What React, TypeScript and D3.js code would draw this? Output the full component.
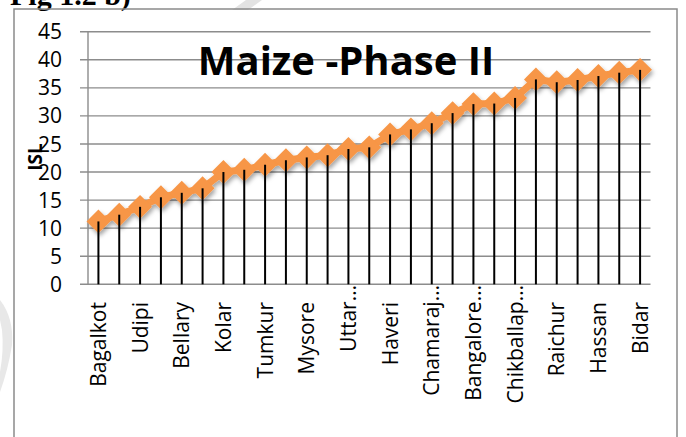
import * as d3 from "d3"

// tick labels shown on the x axis (every second district)
const tickLabels = [
  "Bagalkot", "Udipi", "Bellary", "Kolar", "Tumkur", "Mysore", "Uttar…",
  "Haveri", "Chamaraj…", "Bangalore…", "Chikballap…", "Raichur", "Hassan", "Bidar",
]

// ISL per district, sorted ascending (27 districts)
const islValues = [
  11.2, 12.4, 13.8, 15.5, 16.3, 17.1, 20.0, 20.4, 21.3, 22.1, 22.6, 23.0, 24.1, 24.4,
  26.7, 27.6, 28.7, 30.5, 32.1, 32.2, 33.2, 36.5, 36.0, 36.4, 37.1, 37.7, 38.2,
]

const yTicks = [0, 5, 10, 15, 20, 25, 30, 35, 40, 45]

const W = 686
const H = 437
const left = 88
const right = 650.5
const top = 31.7
const bottom = 284.3

const font = "'Open Sans', 'Noto Sans', sans-serif"
const grid = "#8c8c8c"
const orange = "#f79646"

export default function App() {
  const idx = islValues.map((_, i) => i)
  const x = d3.scaleBand<number>().domain(idx).range([left, right]).paddingInner(0).paddingOuter(0)
  const y = d3.scaleLinear().domain([0, 45]).range([bottom, top])
  const cx = (i: number) => (x(i) ?? 0) + x.bandwidth() / 2

  const line = d3.line<number>()
    .x((_, i) => cx(i))
    .y(d => y(d))

  const diamond = d3.symbol(d3.symbolSquare, 285)()

  return (
    <svg width={W} height={H} style={{ position: "absolute", left: 0, top: 0, background: "#fff" }}>
      <defs>
        <filter id="shadow" x="-10%" y="-10%" width="120%" height="130%">
          <feDropShadow dx="1.5" dy="3" stdDeviation="2" floodColor="#000" floodOpacity="0.35" />
        </filter>
      </defs>

      {/* faint watermark pieces */}
      <polygon points="232,10 248,10 262,0 246,0" fill="#e3e3e3" />
      <path d="M0,300 Q14,318 12,345 Q8,370 0,392 L0,372 Q4,350 2,330 L0,320 Z" fill="#e8e8e8" />

      {/* figure caption, cut off at top */}
      <text x={10} y={5} fontFamily="'Liberation Serif', serif" fontWeight="bold" fontSize={30}>Fig 1.2 b)</text>

      {/* chart frame */}
      <rect x={14} y={9} width={663} height={450} fill="none" stroke="#8a8a8a" strokeWidth={1.5} />

      {/* gridlines + y ticks */}
      {yTicks.map(t => (
        <g key={t}>
          <line x1={80} x2={right} y1={y(t)} y2={y(t)} stroke={grid} strokeWidth={1.4} />
          <text x={62} y={y(t)} dy="0.36em" textAnchor="end" fontFamily={font} fontSize={21} fill="#000">{t}</text>
        </g>
      ))}
      <line x1={left} x2={left} y1={top} y2={bottom} stroke={grid} strokeWidth={1.4} />

      {/* title */}
      <text x={346} y={75} textAnchor="middle" fontFamily={font} fontWeight="bold" fontSize={40} fill="#000">Maize -Phase II</text>

      {/* series */}
      <g filter="url(#shadow)">
        <path d={line(islValues) ?? ""} fill="none" stroke={orange} strokeWidth={7} strokeLinejoin="round" />
        {islValues.map((v, i) => (
          <path key={i} d={diamond ?? ""} transform={`translate(${cx(i)},${y(v)}) rotate(45)`} fill={orange} />
        ))}
      </g>

      {/* drop lines */}
      {islValues.map((v, i) => (
        <line key={i} x1={cx(i)} x2={cx(i)} y1={y(v)} y2={bottom} stroke="#000" strokeWidth={2} />
      ))}

      {/* x labels */}
      {tickLabels.map((lab, k) => {
        const i = k * 2
        const trunc = lab.endsWith("…")
        const yy = trunc ? 285 : 302
        return (
          <text key={lab} transform={`translate(${cx(i)},${yy}) rotate(-90)`} dy="0.36em" textAnchor="end"
            fontFamily={font} fontSize={21} fill="#000">{lab}</text>
        )
      })}

      {/* axis title */}
      <text transform="translate(35,157) rotate(-90)" dy="0.36em" textAnchor="middle" fontFamily={font}
        fontWeight="bold" fontSize={19} fill="#000">ISL</text>
    </svg>
  )
}
